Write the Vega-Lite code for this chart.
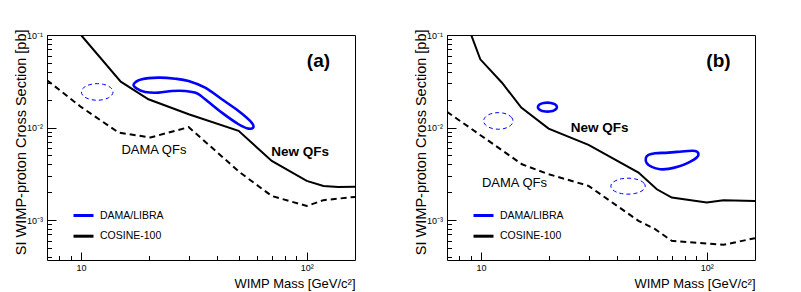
{
"$schema": "https://vega.github.io/schema/vega-lite/v6.json",
"background": "white",
"padding": {"left": 12, "top": 28, "right": 0, "bottom": 0},
"config": {"font": "Liberation Sans", "view": {"stroke": "#000", "strokeWidth": 1}, "axis": {"labelFont": "Liberation Sans", "titleFont": "Liberation Sans", "labelColor": "#000", "titleColor": "#000"}, "text": {"font": "Liberation Sans", "color": "#000"}},
"spacing": 92,
"bounds": "flush",
"resolve": {"scale": {"x": "independent", "y": "independent", "color": "independent"}, "legend": {"color": "independent"}, "axis": {"x": "independent", "y": "independent"}},
"datasets": {
"curves": [
{"panel":"a","series":"COSINE-100","qf":"New","curve":"a1","i":0,"mass":9.5,"sigma":0.116},
{"panel":"a","series":"COSINE-100","qf":"New","curve":"a1","i":1,"mass":10,"sigma":0.1},
{"panel":"a","series":"COSINE-100","qf":"New","curve":"a1","i":2,"mass":15,"sigma":0.0313},
{"panel":"a","series":"COSINE-100","qf":"New","curve":"a1","i":3,"mass":19.9,"sigma":0.0202},
{"panel":"a","series":"COSINE-100","qf":"New","curve":"a1","i":4,"mass":30,"sigma":0.0139},
{"panel":"a","series":"COSINE-100","qf":"New","curve":"a1","i":5,"mass":49.9,"sigma":0.0092},
{"panel":"a","series":"COSINE-100","qf":"New","curve":"a1","i":6,"mass":70,"sigma":0.00435},
{"panel":"a","series":"COSINE-100","qf":"New","curve":"a1","i":7,"mass":100,"sigma":0.00265},
{"panel":"a","series":"COSINE-100","qf":"New","curve":"a1","i":8,"mass":118.6,"sigma":0.00234},
{"panel":"a","series":"COSINE-100","qf":"New","curve":"a1","i":9,"mass":138,"sigma":0.00228},
{"panel":"a","series":"COSINE-100","qf":"New","curve":"a1","i":10,"mass":163.6,"sigma":0.00229},
{"panel":"a","series":"COSINE-100","qf":"DAMA","curve":"a2","i":0,"mass":7.07,"sigma":0.0325},
{"panel":"a","series":"COSINE-100","qf":"DAMA","curve":"a2","i":1,"mass":10,"sigma":0.0167},
{"panel":"a","series":"COSINE-100","qf":"DAMA","curve":"a2","i":2,"mass":14.7,"sigma":0.0088},
{"panel":"a","series":"COSINE-100","qf":"DAMA","curve":"a2","i":3,"mass":20.3,"sigma":0.0078},
{"panel":"a","series":"COSINE-100","qf":"DAMA","curve":"a2","i":4,"mass":30,"sigma":0.0101},
{"panel":"a","series":"COSINE-100","qf":"DAMA","curve":"a2","i":5,"mass":50.7,"sigma":0.00326},
{"panel":"a","series":"COSINE-100","qf":"DAMA","curve":"a2","i":6,"mass":70,"sigma":0.00182},
{"panel":"a","series":"COSINE-100","qf":"DAMA","curve":"a2","i":7,"mass":100,"sigma":0.00142},
{"panel":"a","series":"COSINE-100","qf":"DAMA","curve":"a2","i":8,"mass":118.6,"sigma":0.00164},
{"panel":"a","series":"COSINE-100","qf":"DAMA","curve":"a2","i":9,"mass":163.6,"sigma":0.00178},
{"panel":"a","series":"DAMA/LIBRA","qf":"New","curve":"a3","i":0,"mass":17.11,"sigma":0.02935},
{"panel":"a","series":"DAMA/LIBRA","qf":"New","curve":"a3","i":1,"mass":18.62,"sigma":0.03324},
{"panel":"a","series":"DAMA/LIBRA","qf":"New","curve":"a3","i":2,"mass":22.07,"sigma":0.03458},
{"panel":"a","series":"DAMA/LIBRA","qf":"New","curve":"a3","i":3,"mass":26.15,"sigma":0.03373},
{"panel":"a","series":"DAMA/LIBRA","qf":"New","curve":"a3","i":4,"mass":29.96,"sigma":0.03186},
{"panel":"a","series":"DAMA/LIBRA","qf":"New","curve":"a3","i":5,"mass":35.48,"sigma":0.02697},
{"panel":"a","series":"DAMA/LIBRA","qf":"New","curve":"a3","i":6,"mass":42.07,"sigma":0.0202},
{"panel":"a","series":"DAMA/LIBRA","qf":"New","curve":"a3","i":7,"mass":49.87,"sigma":0.0151},
{"panel":"a","series":"DAMA/LIBRA","qf":"New","curve":"a3","i":8,"mass":56.12,"sigma":0.01178},
{"panel":"a","series":"DAMA/LIBRA","qf":"New","curve":"a3","i":9,"mass":58.1,"sigma":0.01015},
{"panel":"a","series":"DAMA/LIBRA","qf":"New","curve":"a3","i":10,"mass":55.2,"sigma":0.00973},
{"panel":"a","series":"DAMA/LIBRA","qf":"New","curve":"a3","i":11,"mass":49.87,"sigma":0.01085},
{"panel":"a","series":"DAMA/LIBRA","qf":"New","curve":"a3","i":12,"mass":42.07,"sigma":0.01448},
{"panel":"a","series":"DAMA/LIBRA","qf":"New","curve":"a3","i":13,"mass":35.48,"sigma":0.0202},
{"panel":"a","series":"DAMA/LIBRA","qf":"New","curve":"a3","i":14,"mass":32.6,"sigma":0.02347},
{"panel":"a","series":"DAMA/LIBRA","qf":"New","curve":"a3","i":15,"mass":28.94,"sigma":0.02484},
{"panel":"a","series":"DAMA/LIBRA","qf":"New","curve":"a3","i":16,"mass":25.27,"sigma":0.02484},
{"panel":"a","series":"DAMA/LIBRA","qf":"New","curve":"a3","i":17,"mass":22.07,"sigma":0.02381},
{"panel":"a","series":"DAMA/LIBRA","qf":"New","curve":"a3","i":18,"mass":19.25,"sigma":0.02423},
{"panel":"a","series":"DAMA/LIBRA","qf":"New","curve":"a3","i":19,"mass":17.69,"sigma":0.0263},
{"panel":"a","series":"DAMA/LIBRA","qf":"DAMA","curve":"a4","i":0,"mass":13.86,"sigma":0.02423},
{"panel":"a","series":"DAMA/LIBRA","qf":"DAMA","curve":"a4","i":1,"mass":13.69,"sigma":0.02622},
{"panel":"a","series":"DAMA/LIBRA","qf":"DAMA","curve":"a4","i":2,"mass":13.22,"sigma":0.02804},
{"panel":"a","series":"DAMA/LIBRA","qf":"DAMA","curve":"a4","i":3,"mass":12.55,"sigma":0.02932},
{"panel":"a","series":"DAMA/LIBRA","qf":"DAMA","curve":"a4","i":4,"mass":11.8,"sigma":0.02979},
{"panel":"a","series":"DAMA/LIBRA","qf":"DAMA","curve":"a4","i":5,"mass":11.09,"sigma":0.02932},
{"panel":"a","series":"DAMA/LIBRA","qf":"DAMA","curve":"a4","i":6,"mass":10.53,"sigma":0.02804},
{"panel":"a","series":"DAMA/LIBRA","qf":"DAMA","curve":"a4","i":7,"mass":10.16,"sigma":0.02622},
{"panel":"a","series":"DAMA/LIBRA","qf":"DAMA","curve":"a4","i":8,"mass":10.04,"sigma":0.02423},
{"panel":"a","series":"DAMA/LIBRA","qf":"DAMA","curve":"a4","i":9,"mass":10.16,"sigma":0.02239},
{"panel":"a","series":"DAMA/LIBRA","qf":"DAMA","curve":"a4","i":10,"mass":10.53,"sigma":0.02094},
{"panel":"a","series":"DAMA/LIBRA","qf":"DAMA","curve":"a4","i":11,"mass":11.09,"sigma":0.02002},
{"panel":"a","series":"DAMA/LIBRA","qf":"DAMA","curve":"a4","i":12,"mass":11.8,"sigma":0.01971},
{"panel":"a","series":"DAMA/LIBRA","qf":"DAMA","curve":"a4","i":13,"mass":12.55,"sigma":0.02002},
{"panel":"a","series":"DAMA/LIBRA","qf":"DAMA","curve":"a4","i":14,"mass":13.22,"sigma":0.02094},
{"panel":"a","series":"DAMA/LIBRA","qf":"DAMA","curve":"a4","i":15,"mass":13.69,"sigma":0.02239},
{"panel":"b","series":"COSINE-100","qf":"New","curve":"b1","i":0,"mass":8.97,"sigma":0.106},
{"panel":"b","series":"COSINE-100","qf":"New","curve":"b1","i":1,"mass":9.93,"sigma":0.0546},
{"panel":"b","series":"COSINE-100","qf":"New","curve":"b1","i":2,"mass":12.39,"sigma":0.0305},
{"panel":"b","series":"COSINE-100","qf":"New","curve":"b1","i":3,"mass":15.08,"sigma":0.01642},
{"panel":"b","series":"COSINE-100","qf":"New","curve":"b1","i":4,"mass":19.93,"sigma":0.00974},
{"panel":"b","series":"COSINE-100","qf":"New","curve":"b1","i":5,"mass":29.95,"sigma":0.00649},
{"panel":"b","series":"COSINE-100","qf":"New","curve":"b1","i":6,"mass":49.86,"sigma":0.00326},
{"panel":"b","series":"COSINE-100","qf":"New","curve":"b1","i":7,"mass":60.1,"sigma":0.00215},
{"panel":"b","series":"COSINE-100","qf":"New","curve":"b1","i":8,"mass":70,"sigma":0.00175},
{"panel":"b","series":"COSINE-100","qf":"New","curve":"b1","i":9,"mass":100,"sigma":0.00155},
{"panel":"b","series":"COSINE-100","qf":"New","curve":"b1","i":10,"mass":118.6,"sigma":0.00164},
{"panel":"b","series":"COSINE-100","qf":"New","curve":"b1","i":11,"mass":163.6,"sigma":0.00161},
{"panel":"b","series":"COSINE-100","qf":"DAMA","curve":"b2","i":0,"mass":7.07,"sigma":0.0148},
{"panel":"b","series":"COSINE-100","qf":"DAMA","curve":"b2","i":1,"mass":15.19,"sigma":0.00401},
{"panel":"b","series":"COSINE-100","qf":"DAMA","curve":"b2","i":2,"mass":19.93,"sigma":0.00313},
{"panel":"b","series":"COSINE-100","qf":"DAMA","curve":"b2","i":3,"mass":29.95,"sigma":0.00234},
{"panel":"b","series":"COSINE-100","qf":"DAMA","curve":"b2","i":4,"mass":49.86,"sigma":0.00098},
{"panel":"b","series":"COSINE-100","qf":"DAMA","curve":"b2","i":5,"mass":59.07,"sigma":0.000797},
{"panel":"b","series":"COSINE-100","qf":"DAMA","curve":"b2","i":6,"mass":70,"sigma":0.000596},
{"panel":"b","series":"COSINE-100","qf":"DAMA","curve":"b2","i":7,"mass":100,"sigma":0.000558},
{"panel":"b","series":"COSINE-100","qf":"DAMA","curve":"b2","i":8,"mass":118.6,"sigma":0.00054},
{"panel":"b","series":"COSINE-100","qf":"DAMA","curve":"b2","i":9,"mass":163.6,"sigma":0.000637},
{"panel":"b","series":"DAMA/LIBRA","qf":"New","curve":"b3","i":0,"mass":21.69,"sigma":0.01661},
{"panel":"b","series":"DAMA/LIBRA","qf":"New","curve":"b3","i":1,"mass":21.53,"sigma":0.01733},
{"panel":"b","series":"DAMA/LIBRA","qf":"New","curve":"b3","i":2,"mass":21.08,"sigma":0.01798},
{"panel":"b","series":"DAMA/LIBRA","qf":"New","curve":"b3","i":3,"mass":20.43,"sigma":0.01842},
{"panel":"b","series":"DAMA/LIBRA","qf":"New","curve":"b3","i":4,"mass":19.69,"sigma":0.01858},
{"panel":"b","series":"DAMA/LIBRA","qf":"New","curve":"b3","i":5,"mass":18.97,"sigma":0.01842},
{"panel":"b","series":"DAMA/LIBRA","qf":"New","curve":"b3","i":6,"mass":18.39,"sigma":0.01798},
{"panel":"b","series":"DAMA/LIBRA","qf":"New","curve":"b3","i":7,"mass":18.01,"sigma":0.01733},
{"panel":"b","series":"DAMA/LIBRA","qf":"New","curve":"b3","i":8,"mass":17.87,"sigma":0.01661},
{"panel":"b","series":"DAMA/LIBRA","qf":"New","curve":"b3","i":9,"mass":18.01,"sigma":0.01591},
{"panel":"b","series":"DAMA/LIBRA","qf":"New","curve":"b3","i":10,"mass":18.39,"sigma":0.01534},
{"panel":"b","series":"DAMA/LIBRA","qf":"New","curve":"b3","i":11,"mass":18.97,"sigma":0.01497},
{"panel":"b","series":"DAMA/LIBRA","qf":"New","curve":"b3","i":12,"mass":19.69,"sigma":0.01485},
{"panel":"b","series":"DAMA/LIBRA","qf":"New","curve":"b3","i":13,"mass":20.43,"sigma":0.01497},
{"panel":"b","series":"DAMA/LIBRA","qf":"New","curve":"b3","i":14,"mass":21.08,"sigma":0.01534},
{"panel":"b","series":"DAMA/LIBRA","qf":"New","curve":"b3","i":15,"mass":21.53,"sigma":0.01591},
{"panel":"b","series":"DAMA/LIBRA","qf":"New","curve":"b4","i":0,"mass":53.72,"sigma":0.004661},
{"panel":"b","series":"DAMA/LIBRA","qf":"New","curve":"b4","i":1,"mass":55.21,"sigma":0.005059},
{"panel":"b","series":"DAMA/LIBRA","qf":"New","curve":"b4","i":2,"mass":59.05,"sigma":0.005279},
{"panel":"b","series":"DAMA/LIBRA","qf":"New","curve":"b4","i":3,"mass":67.7,"sigma":0.005358},
{"panel":"b","series":"DAMA/LIBRA","qf":"New","curve":"b4","i":4,"mass":80.17,"sigma":0.005546},
{"panel":"b","series":"DAMA/LIBRA","qf":"New","curve":"b4","i":5,"mass":88.76,"sigma":0.005587},
{"panel":"b","series":"DAMA/LIBRA","qf":"New","curve":"b4","i":6,"mass":91.89,"sigma":0.005225},
{"panel":"b","series":"DAMA/LIBRA","qf":"New","curve":"b4","i":7,"mass":90.31,"sigma":0.004732},
{"panel":"b","series":"DAMA/LIBRA","qf":"New","curve":"b4","i":8,"mass":82.99,"sigma":0.004178},
{"panel":"b","series":"DAMA/LIBRA","qf":"New","curve":"b4","i":9,"mass":74.96,"sigma":0.003783},
{"panel":"b","series":"DAMA/LIBRA","qf":"New","curve":"b4","i":10,"mass":67.7,"sigma":0.003572},
{"panel":"b","series":"DAMA/LIBRA","qf":"New","curve":"b4","i":11,"mass":62.15,"sigma":0.003546},
{"panel":"b","series":"DAMA/LIBRA","qf":"New","curve":"b4","i":12,"mass":57.1,"sigma":0.003754},
{"panel":"b","series":"DAMA/LIBRA","qf":"New","curve":"b4","i":13,"mass":54.27,"sigma":0.004116},
{"panel":"b","series":"DAMA/LIBRA","qf":"DAMA","curve":"b5","i":0,"mass":13.86,"sigma":0.01178},
{"panel":"b","series":"DAMA/LIBRA","qf":"DAMA","curve":"b5","i":1,"mass":13.7,"sigma":0.01275},
{"panel":"b","series":"DAMA/LIBRA","qf":"DAMA","curve":"b5","i":2,"mass":13.26,"sigma":0.01363},
{"panel":"b","series":"DAMA/LIBRA","qf":"DAMA","curve":"b5","i":3,"mass":12.64,"sigma":0.01426},
{"panel":"b","series":"DAMA/LIBRA","qf":"DAMA","curve":"b5","i":4,"mass":11.93,"sigma":0.01448},
{"panel":"b","series":"DAMA/LIBRA","qf":"DAMA","curve":"b5","i":5,"mass":11.26,"sigma":0.01426},
{"panel":"b","series":"DAMA/LIBRA","qf":"DAMA","curve":"b5","i":6,"mass":10.73,"sigma":0.01363},
{"panel":"b","series":"DAMA/LIBRA","qf":"DAMA","curve":"b5","i":7,"mass":10.39,"sigma":0.01275},
{"panel":"b","series":"DAMA/LIBRA","qf":"DAMA","curve":"b5","i":8,"mass":10.27,"sigma":0.01178},
{"panel":"b","series":"DAMA/LIBRA","qf":"DAMA","curve":"b5","i":9,"mass":10.39,"sigma":0.01089},
{"panel":"b","series":"DAMA/LIBRA","qf":"DAMA","curve":"b5","i":10,"mass":10.73,"sigma":0.01018},
{"panel":"b","series":"DAMA/LIBRA","qf":"DAMA","curve":"b5","i":11,"mass":11.26,"sigma":0.00974},
{"panel":"b","series":"DAMA/LIBRA","qf":"DAMA","curve":"b5","i":12,"mass":11.93,"sigma":0.00959},
{"panel":"b","series":"DAMA/LIBRA","qf":"DAMA","curve":"b5","i":13,"mass":12.64,"sigma":0.00974},
{"panel":"b","series":"DAMA/LIBRA","qf":"DAMA","curve":"b5","i":14,"mass":13.26,"sigma":0.01018},
{"panel":"b","series":"DAMA/LIBRA","qf":"DAMA","curve":"b5","i":15,"mass":13.7,"sigma":0.01089},
{"panel":"b","series":"DAMA/LIBRA","qf":"DAMA","curve":"b6","i":0,"mass":53.4,"sigma":0.002323},
{"panel":"b","series":"DAMA/LIBRA","qf":"DAMA","curve":"b6","i":1,"mass":52.7,"sigma":0.002506},
{"panel":"b","series":"DAMA/LIBRA","qf":"DAMA","curve":"b6","i":2,"mass":50.7,"sigma":0.002673},
{"panel":"b","series":"DAMA/LIBRA","qf":"DAMA","curve":"b6","i":3,"mass":47.9,"sigma":0.002793},
{"panel":"b","series":"DAMA/LIBRA","qf":"DAMA","curve":"b6","i":4,"mass":44.8,"sigma":0.002835},
{"panel":"b","series":"DAMA/LIBRA","qf":"DAMA","curve":"b6","i":5,"mass":41.9,"sigma":0.002793},
{"panel":"b","series":"DAMA/LIBRA","qf":"DAMA","curve":"b6","i":6,"mass":39.6,"sigma":0.002673},
{"panel":"b","series":"DAMA/LIBRA","qf":"DAMA","curve":"b6","i":7,"mass":38.1,"sigma":0.002506},
{"panel":"b","series":"DAMA/LIBRA","qf":"DAMA","curve":"b6","i":8,"mass":37.6,"sigma":0.002323},
{"panel":"b","series":"DAMA/LIBRA","qf":"DAMA","curve":"b6","i":9,"mass":38.1,"sigma":0.002153},
{"panel":"b","series":"DAMA/LIBRA","qf":"DAMA","curve":"b6","i":10,"mass":39.6,"sigma":0.002018},
{"panel":"b","series":"DAMA/LIBRA","qf":"DAMA","curve":"b6","i":11,"mass":41.9,"sigma":0.001932},
{"panel":"b","series":"DAMA/LIBRA","qf":"DAMA","curve":"b6","i":12,"mass":44.8,"sigma":0.001904},
{"panel":"b","series":"DAMA/LIBRA","qf":"DAMA","curve":"b6","i":13,"mass":47.9,"sigma":0.001932},
{"panel":"b","series":"DAMA/LIBRA","qf":"DAMA","curve":"b6","i":14,"mass":50.7,"sigma":0.002018},
{"panel":"b","series":"DAMA/LIBRA","qf":"DAMA","curve":"b6","i":15,"mass":52.7,"sigma":0.002153}
],
"notes": [
{"panel":"a","kind":"tag","label":"(a)","mass":112.7,"sigma":0.0524},
{"panel":"a","kind":"new","label":"New QFs","mass":93.4,"sigma":0.00545},
{"panel":"a","kind":"dama","label":"DAMA QFs","mass":21.04,"sigma":0.00577},
{"panel":"b","kind":"tag","label":"(b)","mass":112.7,"sigma":0.0524},
{"panel":"b","kind":"new","label":"New QFs","mass":33.5,"sigma":0.00985},
{"panel":"b","kind":"dama","label":"DAMA QFs","mass":14.07,"sigma":0.00249}
]
},
"hconcat": [
{
"width": 308, "height": 225,
"layer": [
{"data": {"name": "curves"}, "transform": [{"filter": "datum.panel=='a' && datum.series=='COSINE-100' && datum.qf=='New'"}],
 "mark": {"type": "line", "strokeWidth": 2, "clip": true},
 "encoding": {
  "x": {"field": "mass", "type": "quantitative", "scale": {"type": "log", "domain": [7.07, 163.6], "nice": false},
   "axis": {"title": "WIMP Mass [GeV/c²]", "titleAnchor": "end", "titleBaseline": "middle", "titleY": 23, "titleFontSize": 13, "titleFontWeight": "normal",
    "values": [8,9,10,20,30,40,50,60,70,80,90,100], "labelExpr": "datum.value==10?'10':datum.value==100?'10²':''", "labelFontSize": 9, "labelPadding": 11.5, "labelOverlap": false, "labelFlush": false, "labelBaseline": "top",
    "tickSize": {"condition": {"test": "datum.value==10||datum.value==100", "value": -8}, "value": -4.5}, "tickColor": "#000", "tickWidth": 1, "domain": false, "grid": false}},
  "y": {"field": "sigma", "type": "quantitative", "scale": {"type": "log", "domain": [0.00037, 0.1], "nice": false},
   "axis": {"title": "SI WIMP-proton Cross Section [pb]", "titleAnchor": "end", "titleBaseline": "middle", "titleX": -25.5, "titleY": -6, "titleFontSize": 14.5, "titleFontWeight": "normal",
    "values": [0.0004,0.0005,0.0006,0.0007,0.0008,0.0009,0.001,0.002,0.003,0.004,0.005,0.006,0.007,0.008,0.009,0.01,0.02,0.03,0.04,0.05,0.06,0.07,0.08,0.09,0.1],
    "labelExpr": "datum.value==0.1?'10⁻¹':datum.value==0.01?'10⁻²':datum.value==0.001?'10⁻³':''", "labelFontSize": 9, "labelPadding": 13.5, "labelOverlap": false, "labelFlush": false,
    "tickSize": {"condition": {"test": "datum.value==0.1||datum.value==0.01||datum.value==0.001", "value": -9}, "value": -4.5}, "tickColor": "#000", "tickWidth": 1, "domain": false, "grid": false}},
  "color": {"field": "series", "type": "nominal", "scale": {"domain": ["DAMA/LIBRA", "COSINE-100"], "range": ["#0000ff", "#000000"]},
   "legend": {"title": null, "orient": "none", "legendX": 25, "legendY": 169, "symbolType": "stroke", "symbolSize": 400, "symbolStrokeWidth": 3, "labelFontSize": 10.5, "labelFont": "Liberation Sans", "labelColor": "#000", "labelOffset": 5, "rowPadding": 2.7, "padding": 0}},
  "order": {"field": "i", "type": "quantitative"}}},
{"data": {"name": "curves"}, "transform": [{"filter": "datum.panel=='a' && datum.series=='COSINE-100' && datum.qf=='DAMA'"}],
 "mark": {"type": "line", "strokeWidth": 2, "strokeDash": [6, 4], "clip": true},
 "encoding": {"x": {"field": "mass", "type": "quantitative"}, "y": {"field": "sigma", "type": "quantitative"}, "color": {"field": "series", "type": "nominal"}, "order": {"field": "i", "type": "quantitative"}}},
{"data": {"name": "curves"}, "transform": [{"filter": "datum.panel=='a' && datum.series=='DAMA/LIBRA' && datum.qf=='New'"}],
 "mark": {"type": "line", "strokeWidth": 2.6, "interpolate": "cardinal-closed", "clip": true},
 "encoding": {"x": {"field": "mass", "type": "quantitative"}, "y": {"field": "sigma", "type": "quantitative"}, "color": {"field": "series", "type": "nominal"}, "detail": {"field": "curve"}, "order": {"field": "i", "type": "quantitative"}}},
{"data": {"name": "curves"}, "transform": [{"filter": "datum.panel=='a' && datum.series=='DAMA/LIBRA' && datum.qf=='DAMA'"}],
 "mark": {"type": "line", "strokeWidth": 1, "strokeDash": [4, 3], "interpolate": "cardinal-closed", "clip": true},
 "encoding": {"x": {"field": "mass", "type": "quantitative"}, "y": {"field": "sigma", "type": "quantitative"}, "color": {"field": "series", "type": "nominal"}, "detail": {"field": "curve"}, "order": {"field": "i", "type": "quantitative"}}},
{"data": {"name": "notes"}, "transform": [{"filter": "datum.panel=='a' && datum.kind=='tag'"}],
 "mark": {"type": "text", "fontSize": 19, "fontWeight": "bold", "align": "center", "baseline": "middle", "color": "#000"},
 "encoding": {"x": {"field": "mass", "type": "quantitative"}, "y": {"field": "sigma", "type": "quantitative"}, "text": {"field": "label"}}},
{"data": {"name": "notes"}, "transform": [{"filter": "datum.panel=='a' && datum.kind=='new'"}],
 "mark": {"type": "text", "fontSize": 13.5, "fontWeight": "bold", "align": "center", "baseline": "middle", "color": "#000"},
 "encoding": {"x": {"field": "mass", "type": "quantitative"}, "y": {"field": "sigma", "type": "quantitative"}, "text": {"field": "label"}}},
{"data": {"name": "notes"}, "transform": [{"filter": "datum.panel=='a' && datum.kind=='dama'"}],
 "mark": {"type": "text", "fontSize": 13, "fontWeight": "normal", "align": "center", "baseline": "middle", "color": "#000"},
 "encoding": {"x": {"field": "mass", "type": "quantitative"}, "y": {"field": "sigma", "type": "quantitative"}, "text": {"field": "label"}}}
]
},
{
"width": 308, "height": 225,
"layer": [
{"data": {"name": "curves"}, "transform": [{"filter": "datum.panel=='b' && datum.series=='COSINE-100' && datum.qf=='New'"}],
 "mark": {"type": "line", "strokeWidth": 2, "clip": true},
 "encoding": {
  "x": {"field": "mass", "type": "quantitative", "scale": {"type": "log", "domain": [7.07, 163.6], "nice": false},
   "axis": {"title": "WIMP Mass [GeV/c²]", "titleAnchor": "end", "titleBaseline": "middle", "titleY": 23, "titleFontSize": 13, "titleFontWeight": "normal",
    "values": [8,9,10,20,30,40,50,60,70,80,90,100], "labelExpr": "datum.value==10?'10':datum.value==100?'10²':''", "labelFontSize": 9, "labelPadding": 11.5, "labelOverlap": false, "labelFlush": false, "labelBaseline": "top",
    "tickSize": {"condition": {"test": "datum.value==10||datum.value==100", "value": -8}, "value": -4.5}, "tickColor": "#000", "tickWidth": 1, "domain": false, "grid": false}},
  "y": {"field": "sigma", "type": "quantitative", "scale": {"type": "log", "domain": [0.00037, 0.1], "nice": false},
   "axis": {"title": "SI WIMP-proton Cross Section [pb]", "titleAnchor": "end", "titleBaseline": "middle", "titleX": -25.5, "titleY": -6, "titleFontSize": 14.5, "titleFontWeight": "normal",
    "values": [0.0004,0.0005,0.0006,0.0007,0.0008,0.0009,0.001,0.002,0.003,0.004,0.005,0.006,0.007,0.008,0.009,0.01,0.02,0.03,0.04,0.05,0.06,0.07,0.08,0.09,0.1],
    "labelExpr": "datum.value==0.1?'10⁻¹':datum.value==0.01?'10⁻²':datum.value==0.001?'10⁻³':''", "labelFontSize": 9, "labelPadding": 13.5, "labelOverlap": false, "labelFlush": false,
    "tickSize": {"condition": {"test": "datum.value==0.1||datum.value==0.01||datum.value==0.001", "value": -9}, "value": -4.5}, "tickColor": "#000", "tickWidth": 1, "domain": false, "grid": false}},
  "color": {"field": "series", "type": "nominal", "scale": {"domain": ["DAMA/LIBRA", "COSINE-100"], "range": ["#0000ff", "#000000"]},
   "legend": {"title": null, "orient": "none", "legendX": 25, "legendY": 169, "symbolType": "stroke", "symbolSize": 400, "symbolStrokeWidth": 3, "labelFontSize": 10.5, "labelFont": "Liberation Sans", "labelColor": "#000", "labelOffset": 5, "rowPadding": 2.7, "padding": 0}},
  "order": {"field": "i", "type": "quantitative"}}},
{"data": {"name": "curves"}, "transform": [{"filter": "datum.panel=='b' && datum.series=='COSINE-100' && datum.qf=='DAMA'"}],
 "mark": {"type": "line", "strokeWidth": 2, "strokeDash": [6, 4], "clip": true},
 "encoding": {"x": {"field": "mass", "type": "quantitative"}, "y": {"field": "sigma", "type": "quantitative"}, "color": {"field": "series", "type": "nominal"}, "order": {"field": "i", "type": "quantitative"}}},
{"data": {"name": "curves"}, "transform": [{"filter": "datum.panel=='b' && datum.series=='DAMA/LIBRA' && datum.qf=='New'"}],
 "mark": {"type": "line", "strokeWidth": 2.6, "interpolate": "cardinal-closed", "clip": true},
 "encoding": {"x": {"field": "mass", "type": "quantitative"}, "y": {"field": "sigma", "type": "quantitative"}, "color": {"field": "series", "type": "nominal"}, "detail": {"field": "curve"}, "order": {"field": "i", "type": "quantitative"}}},
{"data": {"name": "curves"}, "transform": [{"filter": "datum.panel=='b' && datum.series=='DAMA/LIBRA' && datum.qf=='DAMA'"}],
 "mark": {"type": "line", "strokeWidth": 1, "strokeDash": [4, 3], "interpolate": "cardinal-closed", "clip": true},
 "encoding": {"x": {"field": "mass", "type": "quantitative"}, "y": {"field": "sigma", "type": "quantitative"}, "color": {"field": "series", "type": "nominal"}, "detail": {"field": "curve"}, "order": {"field": "i", "type": "quantitative"}}},
{"data": {"name": "notes"}, "transform": [{"filter": "datum.panel=='b' && datum.kind=='tag'"}],
 "mark": {"type": "text", "fontSize": 19, "fontWeight": "bold", "align": "center", "baseline": "middle", "color": "#000"},
 "encoding": {"x": {"field": "mass", "type": "quantitative"}, "y": {"field": "sigma", "type": "quantitative"}, "text": {"field": "label"}}},
{"data": {"name": "notes"}, "transform": [{"filter": "datum.panel=='b' && datum.kind=='new'"}],
 "mark": {"type": "text", "fontSize": 13.5, "fontWeight": "bold", "align": "center", "baseline": "middle", "color": "#000"},
 "encoding": {"x": {"field": "mass", "type": "quantitative"}, "y": {"field": "sigma", "type": "quantitative"}, "text": {"field": "label"}}},
{"data": {"name": "notes"}, "transform": [{"filter": "datum.panel=='b' && datum.kind=='dama'"}],
 "mark": {"type": "text", "fontSize": 13, "fontWeight": "normal", "align": "center", "baseline": "middle", "color": "#000"},
 "encoding": {"x": {"field": "mass", "type": "quantitative"}, "y": {"field": "sigma", "type": "quantitative"}, "text": {"field": "label"}}}
]
}
]
}
